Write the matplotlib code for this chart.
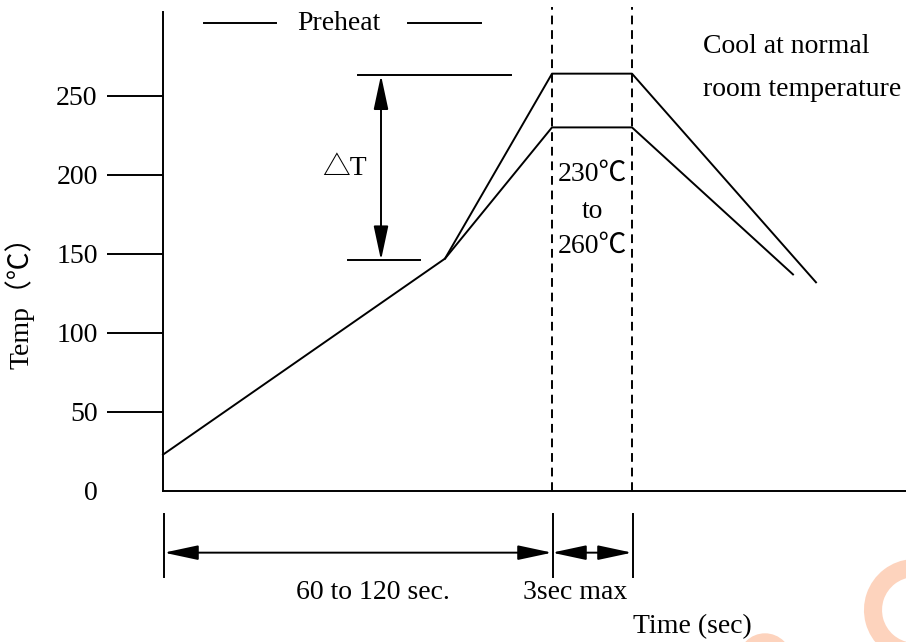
import matplotlib
matplotlib.use("Agg")
import matplotlib.pyplot as plt
from matplotlib.patches import Arc, Circle

plt.rcParams['font.family'] = ['Liberation Serif', 'Noto Sans CJK SC', 'DejaVu Sans']
plt.rcParams['font.size'] = 20

# reflow profile (time in arbitrary chart units, temp in degC)
upper_t = [0, 282, 389, 469, 653]
upper_temp = [23, 147, 264, 264, 132]
lower_t = [282, 389, 469, 630]
lower_temp = [147, 230, 230, 137]

peak_start, peak_end = 389, 469
yticks = [0, 50, 100, 150, 200, 250]

# delta T marker
dt_top, dt_bottom = 263, 146
dt_x = 218

BLACK = 'black'
LW = 1.4

fig = plt.figure(figsize=(9.06, 6.42), dpi=100)
ax = fig.add_axes([163 / 906, 151 / 642, 743 / 906, 479 / 642])
ax.set_xlim(0, 743)
ax.set_ylim(0, 303)

for s in ['top', 'right']:
    ax.spines[s].set_visible(False)
for s in ['left', 'bottom']:
    ax.spines[s].set_linewidth(LW)

ax.set_xticks([])
ax.set_yticks(yticks)
ax.set_yticklabels([str(v) for v in yticks])
ax.tick_params(axis='y', direction='out', length=40, width=LW, pad=7)
ax.yaxis.get_major_ticks()[0].tick1line.set_visible(False)

ax.set_ylabel('Temp（℃）')
ax.yaxis.set_label_coords(-0.173, 0.407)

# profile curves
ax.plot(upper_t, upper_temp, color=BLACK, lw=LW, clip_on=False)
ax.plot(lower_t, lower_temp, color=BLACK, lw=LW, clip_on=False)

# dashed peak window
for x in [peak_start, peak_end]:
    ax.plot([x, x], [0, 306], color=BLACK, lw=LW, ls=(0, (4.5, 3)), clip_on=False)

ax.text((peak_start + peak_end) / 2, 200, '230℃', ha='center', va='center')
ax.text((peak_start + peak_end) / 2, 177, 'to', ha='center', va='center')
ax.text((peak_start + peak_end) / 2, 155, '260℃', ha='center', va='center')

# preheat label with lines
ax.plot([41, 113], [296, 296], color=BLACK, lw=LW, clip_on=False)
ax.plot([245, 318], [296, 296], color=BLACK, lw=LW, clip_on=False)
ax.text(176, 296, 'Preheat', ha='center', va='center')

# delta T
ax.plot([195, 348], [dt_top, dt_top], color=BLACK, lw=LW)
ax.plot([185, 257], [dt_bottom, dt_bottom], color=BLACK, lw=LW)
arrow = dict(arrowstyle='<|-|>,head_length=21,head_width=4.5', mutation_scale=1,
             color=BLACK, lw=LW, shrinkA=0, shrinkB=0)
ax.annotate('', xy=(dt_x, dt_top), xytext=(dt_x, dt_bottom), arrowprops=arrow)
ax.text(181, 204, '△T', ha='center', va='center')

ax.text(540, 281, 'Cool at normal', ha='left', va='center')
ax.text(540, 254, 'room temperature', ha='left', va='center')

# time spans below the axis
for x in [0, peak_start, peak_end]:
    ax.plot([x + 1, x + 1], [-14.5, -54.5], color=BLACK, lw=LW, clip_on=False)
ax.annotate('', xy=(peak_start, -39), xytext=(1, -39), arrowprops=arrow,
            annotation_clip=False)
ax.annotate('', xy=(peak_end, -39), xytext=(peak_start, -39), arrowprops=arrow,
            annotation_clip=False)
ax.text(210, -64, '60 to 120 sec.', ha='center', va='center')
ax.text(412, -64, '3sec max', ha='center', va='center')
ax.text(529, -86, 'Time (sec)', ha='center', va='center')

# faint watermark in the corner
wm = '#fdd3bd'
fig.patches.append(Arc((915, 32), 84, 84, theta1=60, theta2=330, lw=13,
                       color=wm, transform=None, figure=fig))
fig.patches.append(Circle((765, -18), 26, color=wm, transform=None, figure=fig))

fig.savefig('out.png', dpi=100)
